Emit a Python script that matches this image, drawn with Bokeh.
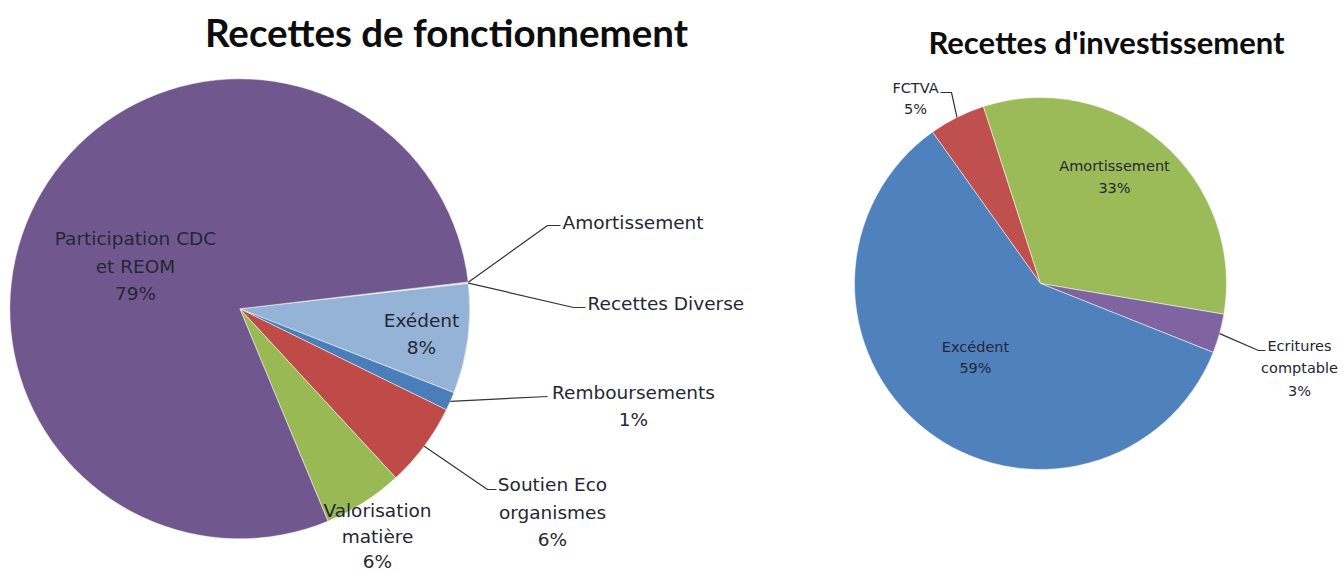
import math
from bokeh.plotting import figure
from bokeh.models import Range1d
from bokeh.core.properties import value
from bokeh.embed import file_html
from bokeh.resources import INLINE

# ---------------- data ----------------
fonct_title = "Recettes de fonctionnement"
fonct_labels = ["Amortissement", "Recettes  Diverse", "Exédent", "Remboursements",
                "Soutien Eco|organismes", "Valorisation|matière", "Participation CDC|et REOM"]
fonct_values = [0.05, 0.05, 7.7, 1.3, 5.9, 5.6, 79.4]
fonct_show_pct = [False, False, True, True, True, True, True]
fonct_colors = ["#C0504D", "#9BBB59", "#95B3D7", "#4A7EBB", "#BE4B48", "#98B954", "#70588F"]

invest_title = "Recettes d'investissement"
invest_labels = ["FCTVA", "Amortissement", "Ecritures|comptable", "Excédent"]
invest_values = [4.9, 32.6, 3.4, 59.1]
invest_show_pct = [True, True, True, True]
invest_colors = ["#C0504D", "#9BBB59", "#8064A2", "#4F81BD"]

# ---------------- layout (reference pixel coordinates) ----------------
W, H = 1343, 571
def sx(X): return X
def sy(Y): return H - Y

TXT = "#262633"
FONT = value("DejaVu Sans")

p = figure(width=W, height=H, x_range=Range1d(0, W), y_range=Range1d(0, H),
           output_backend="svg", toolbar_location=None,
           x_axis_location=None, y_axis_location=None, min_border=0)
p.grid.visible = False
p.outline_line_color = None
p.background_fill_color = "white"


def draw_pie(cx, cy, r, start_deg, vals, colors):
    total = sum(vals)
    ang = start_deg
    mids = []
    for v, c in zip(vals, colors):
        span = v / total * 360.0
        s, e = ang - span, ang
        p.wedge(x=[sx(cx)], y=[sy(cy)], radius=r,
                start_angle=math.radians(s), end_angle=math.radians(e),
                fill_color=c, line_color="white", line_width=1, line_alpha=0.5)
        mids.append((s + e) / 2.0)
        ang = s
    return mids


def edge_point(cx, cy, r, deg):
    return (sx(cx) + r * math.cos(math.radians(deg)),
            sy(cy) + r * math.sin(math.radians(deg)))


def draw_label(label, pct, x, y0, dy, size, align="center"):
    lines = label.split("|")
    if pct is not None:
        lines.append(pct)
    for i, t in enumerate(lines):
        p.text(x=[sx(x)], y=[sy(y0 + i * dy)], text=[t], text_font=FONT,
               text_font_size=size, text_color=TXT, text_align=align,
               text_baseline="middle")


# ---- left pie ----
LC = (239.3, 308.3, 230.0)
lmids = draw_pie(LC[0], LC[1], LC[2], 6.7, fonct_values, fonct_colors)
ltot = sum(fonct_values)

# label placements: (x, first line y, line spacing, align, leader elbow points)
left_layout = [
    (562, 222, 27, "left", [(547, 225), (560, 225)]),
    (587, 303, 27, "left", [(573, 307), (585, 307)]),
    (421, 320, 27, "center", None),
    (633, 392, 27, "center", [(547, 396)]),
    (552, 484, 27.5, "center", [(487, 489), (496, 489)]),
    (377, 510, 25.5, "center", None),
    (135, 238, 27.5, "center", None),
]
for lab, v, show, mid, (x, y0, dy, al, elbow) in zip(fonct_labels, fonct_values,
                                                      fonct_show_pct, lmids, left_layout):
    pct = f"{round(v / ltot * 100)}%" if show else None
    draw_label(lab, pct, x, y0, dy, "18.5px", al)
    if elbow:
        sxp, syp = edge_point(LC[0], LC[1], LC[2], mid)
        xs = [sxp] + [sx(a) for a, b in elbow]
        ys = [syp] + [sy(b) for a, b in elbow]
        p.line(xs, ys, line_color="#333333", line_width=1.2)

# ---- right pie ----
RC = (1040.0, 283.0, 186.0)
rmids = draw_pie(RC[0], RC[1], RC[2], 125.5, invest_values, invest_colors)
rtot = sum(invest_values)
right_layout = [
    (915, 87, 21, "center", [(951, 92), (940, 92)]),
    (1114, 165, 22, "center", None),
    (1299, 345, 22.5, "center", [(1258, 350), (1265, 350)]),
    (975, 346, 21, "center", None),
]
for lab, v, show, mid, (x, y0, dy, al, elbow) in zip(invest_labels, invest_values,
                                                      invest_show_pct, rmids, right_layout):
    pct = f"{round(v / rtot * 100)}%" if show else None
    draw_label(lab, pct, x, y0, dy, "14.5px", al)
    if elbow:
        sxp, syp = edge_point(RC[0], RC[1], RC[2], mid)
        xs = [sxp] + [sx(a) for a, b in elbow]
        ys = [syp] + [sy(b) for a, b in elbow]
        p.line(xs, ys, line_color="#333333", line_width=1.2)

# ---- titles ----
p.text(x=[sx(446)], y=[sy(31)], text=[fonct_title], text_font=value("Lato"),
       text_font_style="bold", text_font_size="38.5px", text_color="#0d0d0d",
       text_align="center", text_baseline="middle")
p.text(x=[sx(1106)], y=[sy(41)], text=[invest_title], text_font=value("Lato"),
       text_font_style="bold", text_font_size="31px", text_color="#0d0d0d",
       text_align="center", text_baseline="middle")

open("out.html", "w").write(file_html(p, INLINE))
